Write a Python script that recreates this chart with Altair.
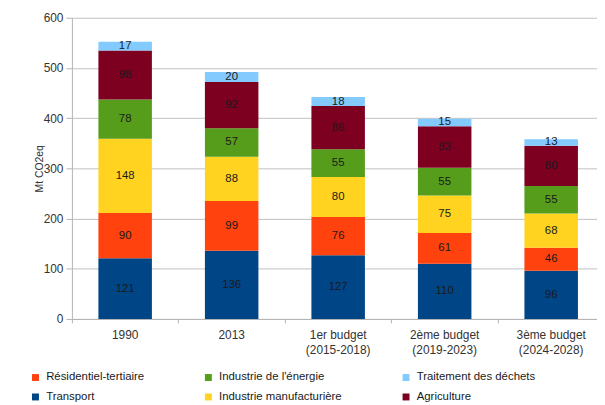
import altair as alt
import pandas as pd

categories = ["1990", "2013", "1er budget\n(2015-2018)", "2ème budget\n(2019-2023)", "3ème budget\n(2024-2028)"]
sectors = ["Transport", "Résidentiel-tertiaire", "Industrie manufacturière",
           "Industrie de l'énergie", "Agriculture", "Traitement des déchets"]
transport = [121, 136, 127, 110, 96]
residentiel = [90, 99, 76, 61, 46]
manufacturiere = [148, 88, 80, 75, 68]
energie = [78, 57, 55, 55, 55]
agriculture = [98, 92, 86, 83, 80]
dechets = [17, 20, 18, 15, 13]
sector_colors = ["#004586", "#ff420e", "#ffd320", "#579d1c", "#7e0021", "#83caff"]
legend_order = ["Résidentiel-tertiaire", "Transport", "Industrie de l'énergie",
                "Industrie manufacturière", "Traitement des déchets", "Agriculture"]
y_ticks = [0, 100, 200, 300, 400, 500, 600]

series = [transport, residentiel, manufacturiere, energie, agriculture, dechets]
rows = []
for ci, cat in enumerate(categories):
    base = 0
    for si, sec in enumerate(sectors):
        v = series[si][ci]
        rows.append({"cat": cat, "sector": sec, "order": si, "value": v,
                     "bottom": base, "top": base + v, "mid": base + v / 2})
        base += v
df = pd.DataFrame(rows)

color_map = dict(zip(sectors, sector_colors))
legend_colors = [color_map[s] for s in legend_order]

FONT = "Liberation Sans"

x_enc = alt.X("cat:N", sort=categories, title=None,
              scale=alt.Scale(range=[0, 537.5], paddingInner=0, paddingOuter=0),
              axis=alt.Axis(labelAngle=0, labelExpr="split(datum.label, '\\n')",
                            labelFontSize=12, labelColor="#333333", labelFont=FONT,
                            labelLineHeight=15, labelPadding=7, tickSize=4,
                            tickColor="#b3b3b3", domainColor="#b3b3b3",
                            bandPosition=0, grid=False))
y_scale = alt.Scale(domain=[0, 600], nice=False)

bars = alt.Chart(df).mark_bar(size=54).encode(
    x=x_enc,
    y=alt.Y("bottom:Q", scale=y_scale, title="Mt CO2eq",
            axis=alt.Axis(values=y_ticks, labelFontSize=12, labelColor="#333333",
                          labelFont=FONT, tickSize=6, labelPadding=3,
                          tickColor="#b3b3b3", domainColor="#b3b3b3",
                          gridColor="#c0c0c0", titleFont=FONT, titleFontSize=10.5,
                          titleFontWeight="normal", titleColor="#333333",
                          titleX=-33, titleY=152, titleAngle=270,
                          titleAlign="center", titleBaseline="middle")),
    y2="top:Q",
    color=alt.Color("sector:N", scale=alt.Scale(domain=legend_order, range=legend_colors),
                    title=None,
                    legend=alt.Legend(orient="none", legendX=-42.5, legendY=357,
                                      columns=3, columnPadding=58.5, rowPadding=7,
                                      symbolType="square", symbolSize=49,
                                      symbolStrokeWidth=0, labelFontSize=11.5,
                                      labelFont=FONT, labelColor="#1a1a1a",
                                      labelOffset=5, labelLimit=300)),
)

labels = alt.Chart(df).mark_text(fontSize=11.5, font=FONT, color="#1a1a1a",
                                 baseline="middle", align="center").encode(
    x=alt.X("cat:N", sort=categories),
    y=alt.Y("mid:Q", scale=y_scale),
    text="value:Q",
)

chart = alt.layer(bars, labels).properties(
    width=530, height=304,
    autosize=alt.AutoSizeParams(type="none"),
    padding={"left": 64.5, "top": 8, "right": 0, "bottom": 84},
).configure_view(stroke=None)

chart.save("out.html", embed_options={"renderer": "svg", "actions": False})
